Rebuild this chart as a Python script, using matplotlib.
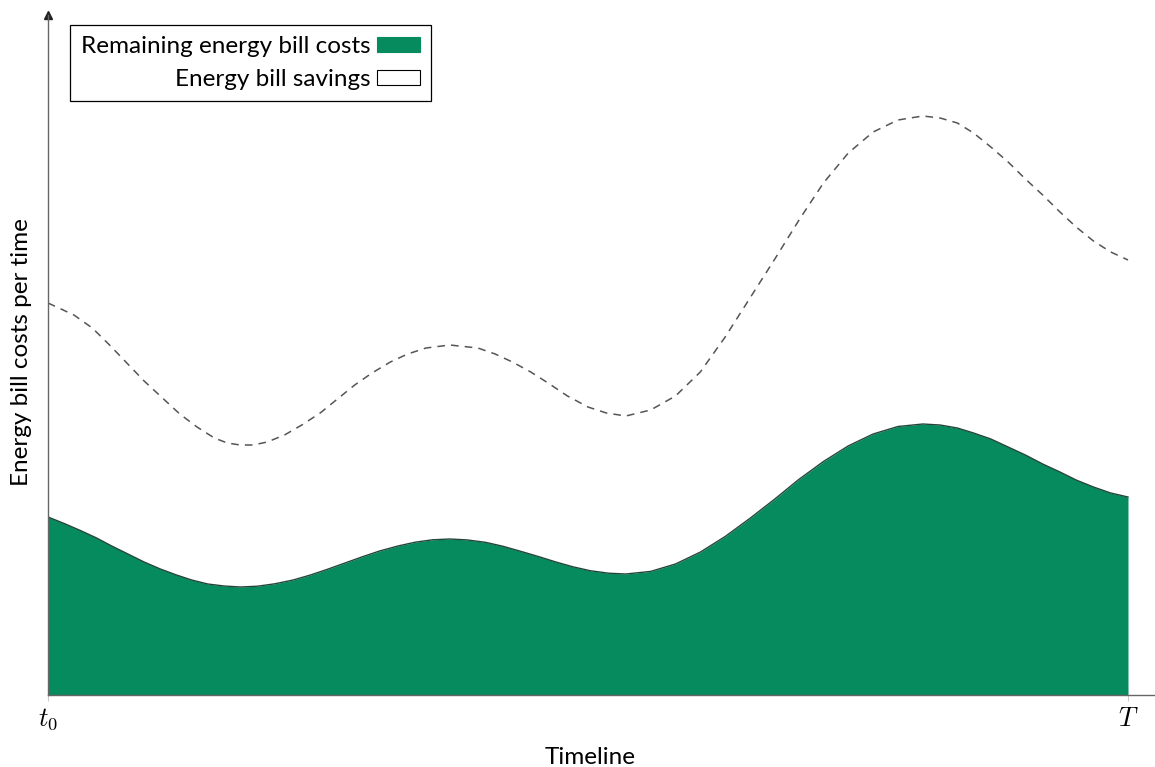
import matplotlib
matplotlib.use("Agg")
import matplotlib.pyplot as plt
from matplotlib.patches import Patch

# --------------------------------------------------
# Data (arbitrary units)
# --------------------------------------------------

t_costs = [0.00, 0.15, 0.30, 0.45, 0.59, 0.74, 0.89, 1.04, 1.19, 1.33,
           1.48, 1.63, 1.78, 1.94, 2.10, 2.27, 2.43, 2.59, 2.75, 2.91,
           3.07, 3.24, 3.40, 3.56, 3.72, 3.88, 4.05, 4.21, 4.37, 4.54,
           4.70, 4.86, 5.02, 5.19, 5.35, 5.58, 5.81, 6.04, 6.27, 6.50,
           6.73, 6.95, 7.18, 7.41, 7.64, 7.87, 8.10, 8.26, 8.42, 8.57,
           8.73, 8.89, 9.05, 9.21, 9.37, 9.52, 9.68, 9.84, 10.00]
remaining_costs = [178, 171.5, 164.5, 157, 149, 141, 133, 126, 120, 115,
                   111, 109, 108, 108.8, 111.2, 115, 120, 125.8, 132, 138.2,
                   144, 149, 152.8, 155.2, 156, 155.1, 152.7, 148.8, 143.9, 138.5,
                   133.1, 128.2, 124.3, 121.8, 121, 123.6, 131, 142.9, 158.5, 176.7,
                   196, 215.4, 233.5, 249.1, 261, 268.5, 271, 270, 267, 262,
                   256, 248, 240, 231, 223, 215, 208, 202, 198]

t_total = [0.00, 0.24, 0.41, 0.57, 0.73, 0.89, 1.06, 1.22, 1.38, 1.54,
           1.66, 1.78, 1.90, 2.03, 2.19, 2.35, 2.52, 2.68, 2.84, 3.00,
           3.17, 3.33, 3.50, 3.72, 3.98, 4.14, 4.30, 4.47, 4.63, 4.81,
           5.00, 5.17, 5.35, 5.58, 5.81, 6.04, 6.27, 6.50, 6.73, 6.96,
           7.18, 7.41, 7.64, 7.87, 8.10, 8.26, 8.42, 8.57, 8.73, 8.89,
           9.05, 9.21, 9.37, 9.52, 9.68, 9.84, 10.00]
total_costs = [392, 380, 367, 350, 332, 314, 297, 281, 268, 257,
               252, 250, 250, 253, 260, 270, 282, 296, 310, 322,
               333, 341, 347, 350, 347, 341, 333, 323, 312, 299,
               288, 282, 279, 285, 299, 323, 358, 397, 436, 476,
               512, 542, 563, 575, 579, 577, 572, 562, 548, 533,
               516, 500, 483, 468, 454, 443, 435]

TICKS = [0, 10]
TICK_LABELS = [r"$t_0$", r"$T$"]

GREEN = "#068b5f"
AXIS_GRAY = "#666666"

# --------------------------------------------------
# Figure
# --------------------------------------------------

plt.rcParams["font.family"] = ["Lato", "DejaVu Sans"]
plt.rcParams["mathtext.fontset"] = "cm"

fig = plt.figure(figsize=(11.55, 7.67), dpi=100)
ax = fig.add_axes([48 / 1155, 72 / 767, 1 - 48 / 1155, 680 / 767])

ax.fill_between(
    t_costs,
    remaining_costs,
    0,
    color=GREEN,
    linewidth=0
)

ax.plot(
    t_costs,
    remaining_costs,
    color="#24463a",
    linewidth=1.0
)

ax.plot(
    t_total,
    total_costs,
    color="#555555",
    linewidth=1.1,
    dashes=(5, 4)
)

ax.set_xlim(0, 10.25)
ax.set_ylim(0, 680)

for side in ["top", "right"]:
    ax.spines[side].set_visible(False)

for side in ["left", "bottom"]:
    ax.spines[side].set_color(AXIS_GRAY)
    ax.spines[side].set_linewidth(1.0)

# arrow head on the y axis
ax.plot(
    0, 1,
    marker="^",
    markersize=5.5,
    color="#222222",
    transform=ax.get_xaxis_transform(),
    clip_on=False
)

ax.set_xticks(TICKS)
ax.set_xticklabels(TICK_LABELS, fontsize=19)
ax.tick_params(axis="x", length=4, color="#cccccc", pad=4)
ax.set_yticks([])

ax.set_xlabel("Timeline", fontsize=17.5)
ax.xaxis.label.set_va("center")
ax.xaxis.set_label_coords((590 - 48) / 1107, -(757 - 695) / 680)

ax.set_ylabel("Energy bill costs per time", fontsize=17.5)
ax.yaxis.label.set_va("center")
ax.yaxis.set_label_coords(-(48 - 22) / 1107, (695 - 352) / 680)

handles = [
    Patch(facecolor=GREEN, edgecolor=GREEN, linewidth=0.8),
    Patch(facecolor="white", edgecolor="black", linewidth=0.8),
]

legend = ax.legend(
    handles,
    ["Remaining energy bill costs", "Energy bill savings"],
    loc="upper left",
    bbox_to_anchor=((70 - 48) / 1107, (695 - 25) / 680),
    markerfirst=False,
    fontsize=17.5,
    fancybox=False,
    framealpha=1,
    edgecolor="black",
    handlelength=1.77,
    handleheight=0.55,
    handletextpad=0.25,
    labelspacing=0.5,
    borderpad=0.45,
    borderaxespad=0
)
legend.get_frame().set_linewidth(0.9)
for txt in legend.get_texts():
    txt.set_ha("right")
legend._legend_box.align = "right"

fig.savefig("out.png", dpi=100)
